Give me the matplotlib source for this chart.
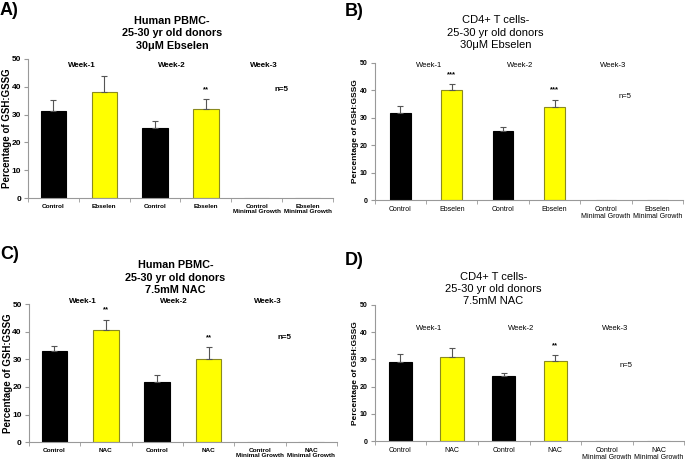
import numpy as np
import matplotlib.pyplot as plt

plt.rcParams['font.family'] = ['Liberation Sans', 'DejaVu Sans']

# bar values (week-1 ctrl, week-1 treat, week-2 ctrl, week-2 treat, week-3 x2)
ebselen_labels = ["Control", "Ebselen", "Control", "Ebselen",
                  "Control\nMinimal Growth", "Ebselen\nMinimal Growth"]
nac_labels = ["Control", "NAC", "Control", "NAC",
              "Control\nMinimal Growth", "NAC\nMinimal Growth"]

pbmc_ebselen = [31.3, 38.1, 25.1, 32.0, 0, 0]
pbmc_ebselen_err = [3.8, 5.8, 2.5, 3.5, 0, 0]
cd4_ebselen = [31.7, 40.0, 25.2, 34.1, 0, 0]
cd4_ebselen_err = [2.7, 2.3, 1.6, 2.5, 0, 0]
pbmc_nac = [33.1, 40.6, 21.9, 30.2, 0, 0]
pbmc_nac_err = [1.9, 3.8, 2.4, 4.3, 0, 0]
cd4_nac = [29.0, 31.0, 23.7, 29.4, 0, 0]
cd4_nac_err = [3.1, 3.0, 1.2, 2.2, 0, 0]

pbmc_ebselen_stars = ["", "", "", "**"]
cd4_ebselen_stars = ["", "***", "", "***"]
pbmc_nac_stars = ["", "**", "", "**"]
cd4_nac_stars = ["", "", "", "**"]

weeks = ["Week-1", "Week-2", "Week-3"]

colors = ['black', '#ffff00', 'black', '#ffff00', 'black', '#ffff00']
edges = ['black', '#8a8a20', 'black', '#8a8a20', '#999999', '#999999']


def panel(rect, letter, letter_xy, title, title_xy, labels, vals, errs, stars,
          week_y, n_pos, bold, bar_w):
    ax = fig.add_axes(rect)
    x = np.arange(len(vals))
    wt = 'bold' if bold else 'normal'
    ax.bar(x, vals, width=bar_w, color=colors, edgecolor=edges, linewidth=0.8,
           zorder=2)
    for i in range(4):
        ax.errorbar(x[i], vals[i], yerr=[[0], [errs[i]]], fmt='none',
                    ecolor='#555555', elinewidth=0.8, capsize=2, capthick=0.8,
                    zorder=3)
        if stars[i]:
            ax.text(x[i], vals[i] + errs[i] + 3.5, stars[i], ha='center',
                    va='center', fontsize=5.5, fontweight='bold')
    ax.set_xlim(-0.5, 5.5)
    ax.set_ylim(0, 50)
    ax.set_yticks([0, 10, 20, 30, 40, 50])
    ax.set_xticks(x)
    ax.set_xticklabels(labels, fontsize=4.6 if bold else 5, fontweight=wt,
                       linespacing=1.15)
    ax.set_xticks(np.arange(-0.5, 6, 1), minor=True)
    ax.tick_params(axis='x', which='major', length=0, pad=4)
    ax.tick_params(axis='x', which='minor', length=3, color='#999999')
    ax.tick_params(axis='y', length=3, color='#999999',
                   labelsize=6 if bold else 5, pad=2)
    for t in ax.get_yticklabels():
        t.set_fontweight('bold')
    ax.set_ylabel("Percentage of GSH:GSSG", fontsize=7 if bold else 6,
                  fontweight='bold')
    ax.yaxis.set_label_coords(-0.052, 0.5)
    for s in ['top', 'right']:
        ax.spines[s].set_visible(False)
    for s in ['left', 'bottom']:
        ax.spines[s].set_color('#999999')
        ax.spines[s].set_linewidth(0.8)
    for wx, w in zip([0.55, 2.33, 4.15], weeks):
        ax.text(wx, week_y, w, ha='center', va='center',
                fontsize=5.8 if bold else 5.5, fontweight=wt)
    ax.text(n_pos[0], n_pos[1], "n=5", ha='center', va='center',
            fontsize=5.8 if bold else 5.5, fontweight=wt)
    if bold:
        fig.text(title_xy[0], title_xy[1], title, ha='center', va='center',
                 fontsize=7.8, fontweight='bold', linespacing=1.3)
    else:
        fig.text(title_xy[0], title_xy[1], title, ha='center', va='center',
                 fontsize=8, linespacing=1.3)
    fig.text(letter_xy[0], letter_xy[1], letter, ha='left', va='center',
             fontsize=13, fontweight='bold')
    return ax


fig = plt.figure(figsize=(6.85, 4.63), dpi=100)

panel([0.041, 0.572, 0.445, 0.301], "A)", (0.0, 0.978),
      "Human PBMC-\n25-30 yr old donors\n30\u03bcM Ebselen", (0.251, 0.928),
      ebselen_labels, pbmc_ebselen, pbmc_ebselen_err, pbmc_ebselen_stars,
      47.5, (4.48, 38.9), True, 0.5)
panel([0.547, 0.568, 0.45, 0.296], "B)", (0.503, 0.975),
      "CD4+ T cells-\n25-30 yr old donors\n30\u03bcM Ebselen", (0.723, 0.929),
      ebselen_labels, cd4_ebselen, cd4_ebselen_err, cd4_ebselen_stars,
      49.0, (4.37, 37.8), False, 0.4)
panel([0.042, 0.045, 0.45, 0.298], "C)", (0.0, 0.451),
      "Human PBMC-\n25-30 yr old donors\n7.5mM NAC", (0.256, 0.400),
      nac_labels, pbmc_nac, pbmc_nac_err, pbmc_nac_stars,
      50.8, (4.48, 37.8), True, 0.5)
panel([0.547, 0.0475, 0.452, 0.294], "D)", (0.503, 0.438),
      "CD4+ T cells-\n25-30 yr old donors\n7.5mM NAC", (0.72, 0.376),
      nac_labels, cd4_nac, cd4_nac_err, cd4_nac_stars,
      41.3, (4.37, 27.6), False, 0.45)

fig.savefig("out.png", dpi=100)
